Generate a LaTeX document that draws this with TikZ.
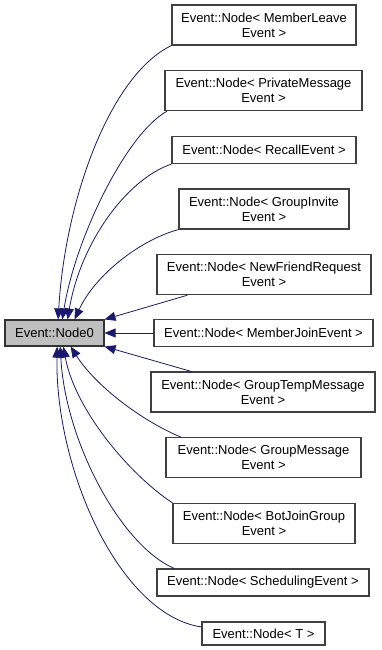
\documentclass[tikz,border=0pt]{standalone}
\usepackage{fontspec}
\setmainfont{Liberation Sans}
\usetikzlibrary{arrows.meta}
\definecolor{edgeblue}{HTML}{191970}
\definecolor{boxline}{HTML}{404040}
\definecolor{basefill}{HTML}{BFBFBF}
\begin{document}
\begin{tikzpicture}[x=1pt,y=-1pt,
  font=\fontsize{13}{15}\selectfont,
  cls/.style={draw=boxline,line width=1.1pt,fill=white,inner sep=0pt,
    align=center,minimum height=40pt},
  cls1/.style={cls,minimum height=27pt},
  base/.style={draw=black!80,line width=1.1pt,fill=basefill,inner sep=0pt,
    minimum width=99pt,minimum height=26pt},
  inh/.style={draw=edgeblue,line width=0.8pt,
    -{Triangle[length=11pt,width=9pt,fill=edgeblue]}}]
\useasboundingbox (0,0) rectangle (381,650);

% base class
\node[base] (n0) at (54.5,333) {Event::Node0};

% template instances
\node[cls,minimum width=184pt]  (ml) at (264,25)    {Event::Node< MemberLeave\\Event >};
\node[cls,minimum width=197pt]  (pm) at (263.5,90.7) {Event::Node< PrivateMessage\\Event >};
\node[cls1,minimum width=184pt] (re) at (264,150)   {Event::Node< RecallEvent >};
\node[cls,minimum width=170pt]  (gi) at (264,209)   {Event::Node< GroupInvite\\Event >};
\node[cls,minimum width=214pt]  (nf) at (264,274.7) {Event::Node< NewFriendRequest\\Event >};
\node[cls1,minimum width=219pt] (mj) at (263.5,333) {Event::Node< MemberJoinEvent >};
\node[cls,minimum width=224pt]  (gt) at (263,392)   {Event::Node< GroupTempMessage\\Event >};
\node[cls,minimum width=195pt]  (gm) at (263.5,457.7) {Event::Node< GroupMessage\\Event >};
\node[cls,minimum width=182pt]  (bj) at (264,523.4) {Event::Node< BotJoinGroup\\Event >};
\node[cls1,minimum width=212pt] (sc) at (263,582.5) {Event::Node< SchedulingEvent >};
\node[cls1,minimum width=123pt,minimum height=23pt] (tt) at (263.5,633.5) {Event::Node< T >};

% inheritance arrows
\draw[inh] (ml.south west) .. controls (110,75) and (65,200) .. (n0.75);
\draw[inh] (pm.192) .. controls (125,135) and (75,240) .. (n0.60);
\draw[inh] (re.south west) .. controls (125,180) and (80,245) .. (n0.46);
\draw[inh] (gi.south west) .. controls (140,240) and (95,275) .. (n0.34);
\draw[inh] (nf.195) -- (n0.north east);
\draw[inh] (mj.west) -- (n0.east);
\draw[inh] (gt.164) -- (n0.south east);
\draw[inh] (gm.166) .. controls (140,420) and (95,385) .. (n0.-40);
\draw[inh] (bj.north west) .. controls (130,475) and (75,410) .. (n0.-57);
\draw[inh] (sc.171) .. controls (120,545) and (65,440) .. (n0.-67);
\draw[inh] (tt.174) .. controls (120,615) and (55,470) .. (n0.-79);
\end{tikzpicture}
\end{document}
